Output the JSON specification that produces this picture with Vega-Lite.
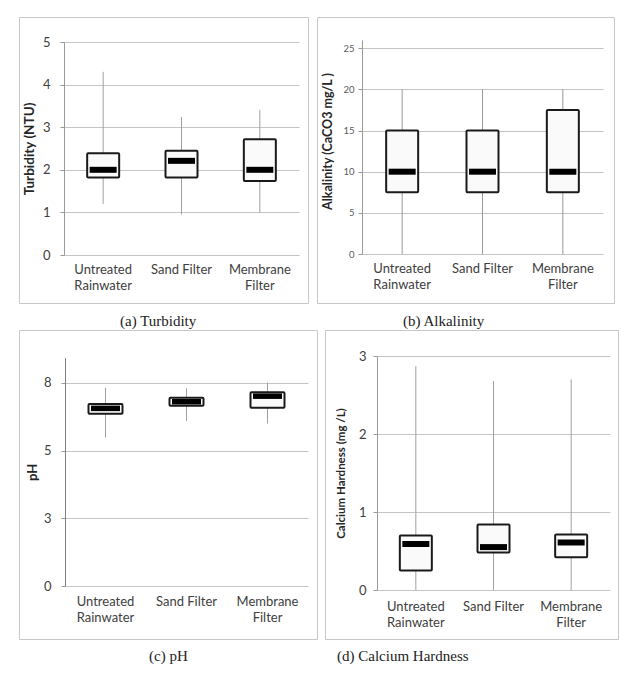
{
  "$schema": "https://vega.github.io/schema/vega-lite/v6.json",
  "padding": {"left": 18, "top": 16, "right": 0, "bottom": 0},
  "background": "white",
  "config": {
    "view": {"stroke": "#c8c8c8", "strokeWidth": 1},
    "axis": {"labelFont": "Lato", "titleFont": "Lato", "labelColor": "#404040", "titleColor": "#262626", "gridColor": "#c4c4c4", "domainColor": "#9a9a9a", "tickColor": "#9a9a9a", "titleFontWeight": "bold", "titleFontSize": 12, "titleAngle": 270, "titleBaseline": "bottom"},
    "title": {"font": "Liberation Serif", "fontSize": 15, "fontWeight": "normal", "color": "#222222", "orient": "bottom", "anchor": "start", "offset": 11}
  },
  "datasets": {
    "turbidity": [
      {"cat": "Untreated Rainwater", "min": 1.2, "q1": 1.82, "median": 2.0, "q3": 2.39, "max": 4.3},
      {"cat": "Sand Filter", "min": 0.95, "q1": 1.82, "median": 2.21, "q3": 2.45, "max": 3.24},
      {"cat": "Membrane Filter", "min": 0.99, "q1": 1.74, "median": 2.0, "q3": 2.72, "max": 3.4}
    ],
    "alkalinity": [
      {"cat": "Untreated Rainwater", "min": 0, "q1": 7.5, "median": 10, "q3": 15, "max": 20},
      {"cat": "Sand Filter", "min": 0, "q1": 7.5, "median": 10, "q3": 15, "max": 20},
      {"cat": "Membrane Filter", "min": 0, "q1": 7.5, "median": 10, "q3": 17.5, "max": 20}
    ],
    "ph": [
      {"cat": "Untreated Rainwater", "min": 5.85, "q1": 6.79, "median": 7.0, "q3": 7.17, "max": 7.81},
      {"cat": "Sand Filter", "min": 6.5, "q1": 7.1, "median": 7.26, "q3": 7.42, "max": 7.79},
      {"cat": "Membrane Filter", "min": 6.4, "q1": 7.02, "median": 7.48, "q3": 7.63, "max": 8.02}
    ],
    "calcium": [
      {"cat": "Untreated Rainwater", "min": 0, "q1": 0.25, "median": 0.59, "q3": 0.7, "max": 2.87},
      {"cat": "Sand Filter", "min": 0, "q1": 0.48, "median": 0.55, "q3": 0.84, "max": 2.68},
      {"cat": "Membrane Filter", "min": 0, "q1": 0.42, "median": 0.61, "q3": 0.71, "max": 2.7}
    ]
  },
  "spacing": -2,
  "vconcat": [
    {
      "spacing": 7,
      "hconcat": [
        {
          "width": 289, "height": 286,
          "title": {"text": "(a) Turbidity", "dx": 101},
          "data": {"name": "turbidity"},
          "encoding": {
            "x": {"field": "cat", "type": "nominal", "sort": null, "title": null,
              "scale": {"range": [45, 280], "paddingInner": 0, "paddingOuter": 0},
              "axis": {"offset": -48, "domain": false, "ticks": false, "grid": false, "labelAngle": 0, "labelPadding": 8, "labelFontSize": 13, "labelLineHeight": 16, "labelLimit": 200,
                "labelExpr": "datum.value == 'Untreated Rainwater' ? ['Untreated', 'Rainwater'] : datum.value == 'Membrane Filter' ? ['Membrane', 'Filter'] : datum.value"}}
          },
          "layer": [
            {"mark": {"type": "rule", "color": "#a0a0a0", "strokeWidth": 1},
              "encoding": {"y": {"field": "min", "type": "quantitative", "title": "Turbidity  (NTU)",
                "scale": {"domain": [0, 5], "range": [238, 25]},
                "axis": {"offset": -45, "values": [0, 1, 2, 3, 4, 5], "format": "d", "labelFontSize": 13, "labelPadding": 10, "tickSize": 4, "grid": true, "titleX": -28, "titleFontSize": 13.5}},
                "y2": {"field": "max"}}},
            {"mark": {"type": "bar", "size": 32, "fill": "#fafafa", "stroke": "#1a1a1a", "strokeWidth": 2, "cornerRadius": 1},
              "encoding": {"y": {"field": "q1", "type": "quantitative", "title": "Turbidity  (NTU)"}, "y2": {"field": "q3"}}},
            {"mark": {"type": "tick", "color": "black", "thickness": 6, "size": 27, "opacity": 1},
              "encoding": {"y": {"field": "median", "type": "quantitative", "title": "Turbidity  (NTU)"}}}
          ]
        },
        {
          "width": 297, "height": 286,
          "title": {"text": "(b) Alkalinity", "dx": 86},
          "data": {"name": "alkalinity"},
          "encoding": {
            "x": {"field": "cat", "type": "nominal", "sort": null, "title": null,
              "scale": {"range": [45, 286], "paddingInner": 0, "paddingOuter": 0},
              "axis": {"offset": -49, "domain": false, "ticks": false, "grid": false, "labelAngle": 0, "labelPadding": 8, "labelFontSize": 13, "labelLineHeight": 16, "labelLimit": 200,
                "labelExpr": "datum.value == 'Untreated Rainwater' ? ['Untreated', 'Rainwater'] : datum.value == 'Membrane Filter' ? ['Membrane', 'Filter'] : datum.value"}}
          },
          "layer": [
            {"mark": {"type": "rule", "color": "#999999", "strokeWidth": 1},
              "encoding": {"y": {"field": "min", "type": "quantitative", "title": "Alkalinity (CaCO3 mg/L )",
                "scale": {"domain": [0, 25], "range": [237, 23]},
                "axis": {"offset": -45, "values": [0, 5, 10, 15, 20, 25], "format": "d", "labelFontSize": 9.5, "labelColor": "#595959", "labelPadding": 4, "tickSize": 4, "grid": true, "titleX": -28, "titleFontSize": 12.5, "titleY": 124}},
                "y2": {"field": "max"}}},
            {"mark": {"type": "bar", "size": 32, "fill": "#fafafa", "stroke": "#1a1a1a", "strokeWidth": 2, "cornerRadius": 1},
              "encoding": {"y": {"field": "q1", "type": "quantitative", "title": "Alkalinity (CaCO3 mg/L )"}, "y2": {"field": "q3"}}},
            {"mark": {"type": "tick", "color": "black", "thickness": 6, "size": 27, "opacity": 1},
              "encoding": {"y": {"field": "median", "type": "quantitative", "title": "Alkalinity (CaCO3 mg/L )"}}}
          ]
        }
      ]
    },
    {
      "spacing": 6,
      "hconcat": [
        {
          "width": 298, "height": 309,
          "title": {"text": "(c) pH", "dx": 130, "offset": 10},
          "data": {"name": "ph"},
          "encoding": {
            "x": {"field": "cat", "type": "nominal", "sort": null, "title": null,
              "scale": {"range": [46, 289], "paddingInner": 0, "paddingOuter": 0},
              "axis": {"offset": -53, "domain": false, "ticks": false, "grid": false, "labelAngle": 0, "labelPadding": 9, "labelFontSize": 13, "labelLineHeight": 16, "labelLimit": 200,
                "labelExpr": "datum.value == 'Untreated Rainwater' ? ['Untreated', 'Rainwater'] : datum.value == 'Membrane Filter' ? ['Membrane', 'Filter'] : datum.value"}}
          },
          "layer": [
            {"mark": {"type": "rule", "color": "#a0a0a0", "strokeWidth": 1},
              "encoding": {"y": {"field": "min", "type": "quantitative", "title": "pH",
                "scale": {"domain": [0, 9], "range": [256, 27.6]},
                "axis": {"offset": -46, "values": [0, 2.6667, 5.3333, 8], "format": ".0f", "labelFontSize": 13, "labelPadding": 10, "tickSize": 4, "grid": true, "titleX": -26, "titleFontSize": 13, "domainColor": "#808080"}},
                "y2": {"field": "max"}}},
            {"mark": {"type": "bar", "size": 34, "fill": "#fafafa", "stroke": "#1a1a1a", "strokeWidth": 2, "cornerRadius": 1},
              "encoding": {"y": {"field": "q1", "type": "quantitative", "title": "pH"}, "y2": {"field": "q3"}}},
            {"mark": {"type": "tick", "color": "black", "thickness": 5.5, "size": 29, "opacity": 1},
              "encoding": {"y": {"field": "median", "type": "quantitative", "title": "pH"}}}
          ]
        },
        {
          "width": 293, "height": 309,
          "title": {"text": "(d) Calcium Hardness", "dx": 12, "offset": 10},
          "data": {"name": "calcium"},
          "encoding": {
            "x": {"field": "cat", "type": "nominal", "sort": null, "title": null,
              "scale": {"range": [52, 285], "paddingInner": 0, "paddingOuter": 0},
              "axis": {"offset": -49, "domain": false, "ticks": false, "grid": false, "labelAngle": 0, "labelPadding": 10, "labelFontSize": 13, "labelLineHeight": 16, "labelLimit": 200,
                "labelExpr": "datum.value == 'Untreated Rainwater' ? ['Untreated', 'Rainwater'] : datum.value == 'Membrane Filter' ? ['Membrane', 'Filter'] : datum.value"}}
          },
          "layer": [
            {"mark": {"type": "rule", "color": "#a0a0a0", "strokeWidth": 1},
              "encoding": {"y": {"field": "min", "type": "quantitative", "title": "Calcium Hardness (mg /L)",
                "scale": {"domain": [0, 3], "range": [260, 26]},
                "axis": {"offset": -52, "values": [0, 1, 2, 3], "format": "d", "labelFontSize": 13, "labelPadding": 7, "tickSize": 4, "grid": true, "titleX": -31, "titleFontSize": 11.5}},
                "y2": {"field": "max"}}},
            {"mark": {"type": "bar", "size": 32, "fill": "#fafafa", "stroke": "#1a1a1a", "strokeWidth": 2, "cornerRadius": 1},
              "encoding": {"y": {"field": "q1", "type": "quantitative", "title": "Calcium Hardness (mg /L)"}, "y2": {"field": "q3"}}},
            {"mark": {"type": "tick", "color": "black", "thickness": 6, "size": 27, "opacity": 1},
              "encoding": {"y": {"field": "median", "type": "quantitative", "title": "Calcium Hardness (mg /L)"}}}
          ]
        }
      ]
    }
  ]
}
